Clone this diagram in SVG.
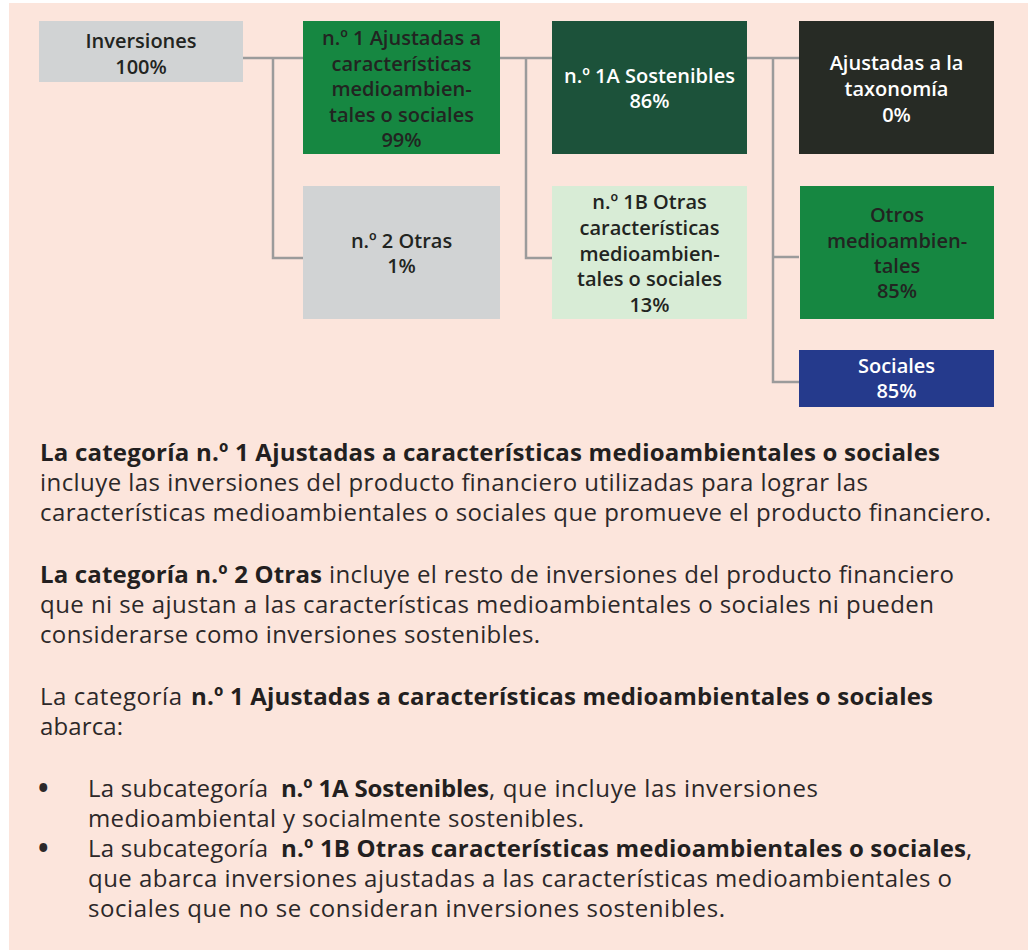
<svg xmlns="http://www.w3.org/2000/svg" width="1028" height="950" viewBox="0 0 1028 950">
<style>
.bg{fill:#fce5dc}
.n{font-family:"Open Sans",Lato,"DejaVu Sans",sans-serif;font-size:20px;font-weight:600;text-anchor:middle}
.dk{fill:#222421}
.wt{fill:#ffffff}
.c{fill:none;stroke:#9b9b9b;stroke-width:2.5}
.b{font-family:"Open Sans",Lato,"DejaVu Sans",sans-serif;font-size:24px;fill:#2c2829}
.bb{font-weight:700;fill:#231f20}
.bu{font-size:28px;font-weight:700}
</style>
<rect x="0" y="0" width="1028" height="950" fill="#ffffff"/>
<rect class="bg" x="9" y="3" width="1019" height="947"/>
<g id="connectors">
<path class="c" d="M243 58H303M273 58V258H303"/>
<path class="c" d="M500 58H552M526 58V258H552"/>
<path class="c" d="M747 58H799M773 58V382H799M773 257H799"/>
</g>
<g id="inversiones">
<rect x="39" y="21" width="204" height="61" fill="#d1d3d4"/>
<text class="n dk" x="141" y="48">Inversiones</text>
<text class="n dk" x="141" y="74">100%</text>
</g>
<g id="n1">
<rect x="303" y="21" width="197" height="133" fill="#168741"/>
<text class="n dk" x="401.5" y="45">n.º 1 Ajustadas a</text>
<text class="n dk" x="401.5" y="71">características</text>
<text class="n dk" x="401.5" y="96">medioambien-</text>
<text class="n dk" x="401.5" y="122">tales o sociales</text>
<text class="n dk" x="401.5" y="147">99%</text>
</g>
<g id="n2">
<rect x="303" y="186" width="197" height="133" fill="#d1d3d4"/>
<text class="n dk" x="401.5" y="248">n.º 2 Otras</text>
<text class="n dk" x="401.5" y="273">1%</text>
</g>
<g id="n1a">
<rect x="552" y="21" width="195" height="133" fill="#1c523a"/>
<text class="n wt" x="649.5" y="83">n.º 1A Sostenibles</text>
<text class="n wt" x="649.5" y="108">86%</text>
</g>
<g id="n1b">
<rect x="552" y="186" width="195" height="133" fill="#d8ecd6"/>
<text class="n dk" x="649.5" y="209">n.º 1B Otras</text>
<text class="n dk" x="649.5" y="235">características</text>
<text class="n dk" x="649.5" y="261">medioambien-</text>
<text class="n dk" x="649.5" y="286">tales o sociales</text>
<text class="n dk" x="649.5" y="312">13%</text>
</g>
<g id="taxonomia">
<rect x="799" y="21" width="195" height="133" fill="#272b25"/>
<text class="n wt" x="896.5" y="70">Ajustadas a la</text>
<text class="n wt" x="896.5" y="96">taxonomía</text>
<text class="n wt" x="896.5" y="122">0%</text>
</g>
<g id="otros">
<rect x="800" y="186" width="194" height="133" fill="#168741"/>
<text class="n dk" x="897" y="222">Otros</text>
<text class="n dk" x="897" y="248">medioambien-</text>
<text class="n dk" x="897" y="273">tales</text>
<text class="n dk" x="897" y="298">85%</text>
</g>
<g id="sociales">
<rect x="799" y="350" width="195" height="57" fill="#253a8c"/>
<text class="n wt" x="896.5" y="373">Sociales</text>
<text class="n wt" x="896.5" y="398">85%</text>
</g>
<g id="texto">
<text class="b bb" x="40" y="461" textLength="900">La categoría n.º 1 Ajustadas a características medioambientales o sociales</text>
<text class="b" x="40" y="491" textLength="828">incluye las inversiones del producto financiero utilizadas para lograr las</text>
<text class="b" x="40" y="521" textLength="951">características medioambientales o sociales que promueve el producto financiero.</text>
<text class="b bb" x="40" y="583" textLength="282">La categoría n.º 2 Otras</text>
<text class="b" x="329" y="583" textLength="625">incluye el resto de inversiones del producto financiero</text>
<text class="b" x="40" y="613" textLength="894">que ni se ajustan a las características medioambientales o sociales ni pueden</text>
<text class="b" x="40" y="643" textLength="500">considerarse como inversiones sostenibles.</text>
<text class="b" x="40" y="705" textLength="142">La categoría</text>
<text class="b bb" x="191" y="705" textLength="742">n.º 1 Ajustadas a características medioambientales o sociales</text>
<text class="b" x="40" y="735" textLength="83">abarca:</text>
<text class="b bu" x="38" y="798">•</text>
<text class="b" x="88" y="797" textLength="180">La subcategoría</text>
<text class="b bb" x="281" y="797" textLength="208">n.º 1A Sostenibles</text>
<text class="b" x="489" y="797" textLength="329">, que incluye las inversiones</text>
<text class="b" x="88" y="827" textLength="496">medioambiental y socialmente sostenibles.</text>
<text class="b bu" x="38" y="858">•</text>
<text class="b" x="88" y="857" textLength="180">La subcategoría</text>
<text class="b bb" x="281" y="857" textLength="685">n.º 1B Otras características medioambientales o sociales</text>
<text class="b" x="966" y="857">,</text>
<text class="b" x="88" y="887" textLength="864">que abarca inversiones ajustadas a las características medioambientales o</text>
<text class="b" x="88" y="917" textLength="637">sociales que no se consideran inversiones sostenibles.</text>
</g>
</svg>
